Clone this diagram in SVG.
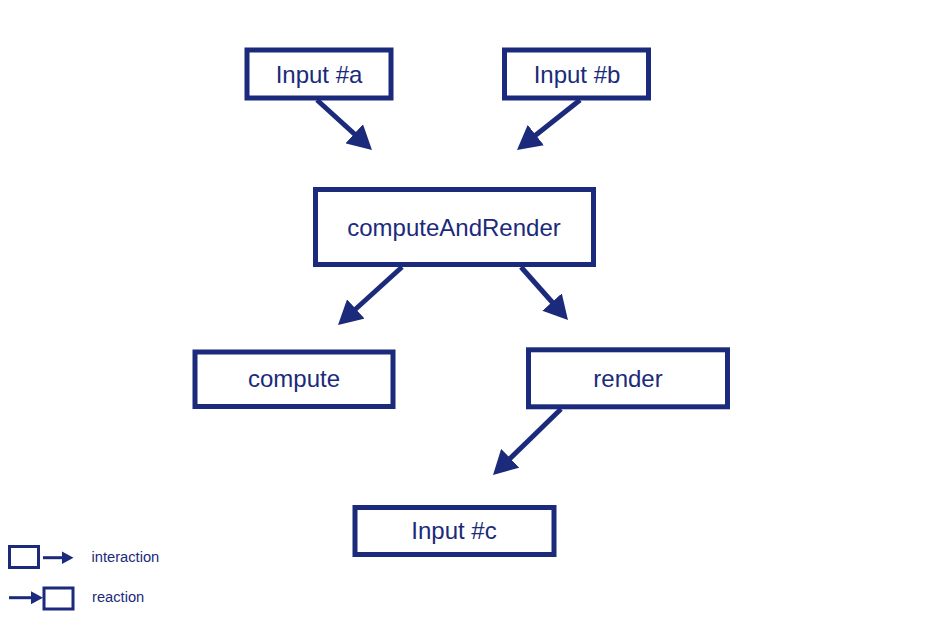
<svg xmlns="http://www.w3.org/2000/svg" width="950" height="634" viewBox="0 0 950 634">
<style>
.box{fill:#fff;stroke:#1b2a7b;stroke-width:5}
.sbox{fill:#fff;stroke:#1b2a7b;stroke-width:3}
.lbl{font-family:"Liberation Sans",Arial,sans-serif;font-size:24px;fill:#1b2a7b;text-anchor:middle}
.leg{font-family:"Liberation Sans",Arial,sans-serif;font-size:14.7px;fill:#1b2a7b}
.edge{stroke:#1b2a7b;stroke-width:5;fill:none;marker-end:url(#ah)}
.sedge{stroke:#1b2a7b;stroke-width:3;fill:none;marker-end:url(#sah)}
</style>
<defs>
<marker id="ah" viewBox="0 0 24 26" refX="12" refY="13" markerWidth="24" markerHeight="26" markerUnits="userSpaceOnUse" orient="auto">
<path d="M0,0 L24,13 L0,26 z" fill="#1b2a7b"/>
</marker>
<marker id="sah" viewBox="0 0 12 13" refX="6" refY="6.5" markerWidth="12" markerHeight="13" markerUnits="userSpaceOnUse" orient="auto">
<path d="M0,0 L12,6.5 L0,13 z" fill="#1b2a7b"/>
</marker>
</defs>
<g id="connectors">
<line class="edge" x1="317" y1="100" x2="363.1" y2="141.9"/>
<line class="edge" x1="580" y1="100" x2="526.4" y2="142.5"/>
<line class="edge" x1="402" y1="267" x2="346.9" y2="317"/>
<line class="edge" x1="521" y1="267" x2="560" y2="311"/>
<line class="edge" x1="561" y1="409" x2="501.6" y2="466.6"/>
</g>
<g id="inputA"><rect class="box" x="247" y="50" width="144" height="48"/><text class="lbl" x="319" y="82.7">Input #a</text></g>
<g id="inputB"><rect class="box" x="504.5" y="50" width="144" height="48"/><text class="lbl" x="577" y="82.7">Input #b</text></g>
<g id="computeAndRender"><rect class="box" x="315.5" y="189.5" width="278" height="75"/><text class="lbl" x="454" y="235.5">computeAndRender</text></g>
<g id="compute"><rect class="box" x="195" y="352" width="198" height="54.5"/><text class="lbl" x="294" y="387">compute</text></g>
<g id="render"><rect class="box" x="528.5" y="349.8" width="199" height="57"/><text class="lbl" x="628" y="387">render</text></g>
<g id="inputC"><rect class="box" x="355" y="507.5" width="199" height="47"/><text class="lbl" x="454" y="538.8">Input #c</text></g>
<g id="legend">
<rect class="sbox" x="9.5" y="546.5" width="29" height="21"/>
<line class="sedge" x1="43" y1="557.7" x2="67.5" y2="557.7"/>
<text class="leg" x="91.5" y="561.7">interaction</text>
<line class="sedge" x1="9" y1="597.7" x2="37" y2="597.7"/>
<rect class="sbox" x="44" y="588" width="29" height="21"/>
<text class="leg" x="92" y="601.7">reaction</text>
</g>
</svg>
